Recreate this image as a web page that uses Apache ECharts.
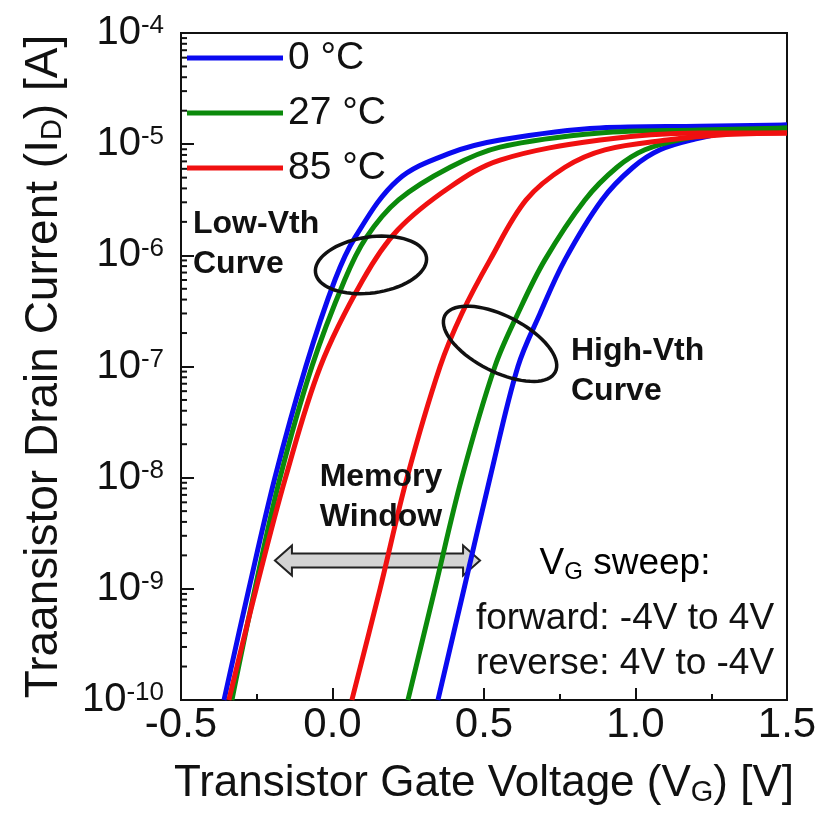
<!DOCTYPE html>
<html>
<head>
<meta charset="utf-8">
<title>ID-VG temperature</title>
<script src="https://cdn.jsdelivr.net/npm/echarts@6/dist/echarts.min.js"></script>
<style>
	html, body {margin: 0; padding: 0; background: #fff;}
	#main {width: 831px; height: 814px;}
</style>
</head>
<body>
<div id="main"></div>
<script type="text/javascript">
	// 读图得到的数据 (V_G [V], I_D [A])
	var blueLowV  = [-0.358, -0.276, -0.19, -0.088, 0.008, 0.075, 0.215, 0.388, 0.553, 0.883, 1.213, 1.5];
	var blueLowI  = [1e-10, 1e-9, 1e-8, 1e-7, 6.0e-7, 1.46e-6, 4.76e-6, 8.3e-6, 1.09e-5, 1.40e-5, 1.45e-5, 1.49e-5];
	var blueHighV = [0.348, 0.434, 0.52, 0.612, 0.685, 0.767, 0.889, 0.992, 1.081, 1.196, 1.345, 1.5];
	var blueHighI = [1e-10, 1e-9, 1e-8, 1e-7, 3.0e-7, 9.1e-7, 3.15e-6, 6.2e-6, 8.9e-6, 1.11e-5, 1.34e-5, 1.49e-5];

	var greenLowV  = [-0.332, -0.256, -0.173, -0.068, 0.04, 0.11, 0.218, 0.388, 0.553, 0.883, 1.213, 1.5];
	var greenLowI  = [1e-10, 1e-9, 1e-8, 1e-7, 6.0e-7, 1.43e-6, 3.15e-6, 6.2e-6, 9.4e-6, 1.26e-5, 1.34e-5, 1.40e-5];
	var greenHighV = [0.249, 0.338, 0.427, 0.536, 0.612, 0.701, 0.833, 0.939, 1.031, 1.157, 1.312, 1.5];
	var greenHighI = [1e-10, 1e-9, 1e-8, 1e-7, 3.0e-7, 9.1e-7, 3.15e-6, 6.2e-6, 8.9e-6, 1.11e-5, 1.29e-5, 1.40e-5];

	var redLowV  = [-0.342, -0.252, -0.155, -0.04, 0.1, 0.215, 0.388, 0.553, 0.883, 1.213, 1.5];
	var redLowI  = [1e-10, 1e-9, 1e-8, 1e-7, 6.0e-7, 1.69e-6, 4.12e-6, 7.2e-6, 1.09e-5, 1.26e-5, 1.26e-5];
	var redHighV = [0.064, 0.157, 0.246, 0.355, 0.427, 0.52, 0.639, 0.767, 0.899, 1.104, 1.279, 1.5];
	var redHighI = [1e-10, 1e-9, 1e-8, 1e-7, 3.0e-7, 9.1e-7, 3.15e-6, 6.2e-6, 8.9e-6, 1.09e-5, 1.21e-5, 1.26e-5];

	var legendNames = ['0 °C', '27 °C', '85 °C'];
	var colors = ['#0a0af0', '#0b8a0b', '#f01010'];
	var xTicks = [-0.5, 0.0, 0.5, 1.0, 1.5];
	var yDecades = [-10, -9, -8, -7, -6, -5, -4];

	var FONT = '"Liberation Sans", Arial, sans-serif';

	function zip(v, i) {
		var out = [];
		for (var k = 0; k < v.length; k++) out.push([v[k], i[k]]);
		return out;
	}

	// 对数轴的小刻度 2..9 x 10^n
	var minorVals = [];
	for (var d = 0; d < yDecades.length - 1; d++) {
		for (var m = 2; m <= 9; m++) minorVals.push([xTicks[0], m * Math.pow(10, yDecades[d])]);
	}

	function curve(name, color, v, i) {
		return {
			name: name, type: 'line', data: zip(v, i),
			smooth: 0.35, symbol: 'none',
			lineStyle: {color: color, width: 5}, itemStyle: {color: color},
			z: 3
		};
	}

	var myChart = echarts.init(document.getElementById('main'));

	var option = {
		animation: false,
		grid: {left: 181, right: 44, top: 33, bottom: 114, show: true,
			borderColor: '#111', borderWidth: 2, containLabel: false, outerBoundsMode: 'none'},
		legend: {
			data: legendNames, orient: 'vertical', left: 187, top: 38, padding: 0,
			icon: 'rect', itemWidth: 96, itemHeight: 5, itemGap: 15,
			textStyle: {fontFamily: FONT, fontSize: 39, lineHeight: 40, color: '#111'}
		},
		xAxis: {
			type: 'value', min: xTicks[0], max: xTicks[xTicks.length - 1], interval: 0.5,
			axisLine: {onZero: false, lineStyle: {color: '#111', width: 2}},
			axisTick: {inside: true, length: 12, lineStyle: {color: '#111', width: 2}},
			minorTick: {show: true, splitNumber: 2, length: 6, lineStyle: {color: '#111', width: 2}},
			splitLine: {show: false},
			axisLabel: {margin: 4, fontFamily: FONT, fontSize: 42, color: '#111',
				formatter: function (v) { return v.toFixed(1); }},
			name: '{a|Transistor Gate Voltage (V}{s|G}{a|) [V]}',
			nameLocation: 'middle', nameGap: 61,
			nameTextStyle: {rich: {
				a: {fontFamily: FONT, fontSize: 44, lineHeight: 46, color: '#111'},
				s: {fontFamily: FONT, fontSize: 29, lineHeight: 20, verticalAlign: 'bottom', color: '#111'}
			}}
		},
		yAxis: {
			type: 'log', logBase: 10, min: Math.pow(10, yDecades[0]), max: Math.pow(10, yDecades[yDecades.length - 1]),
			axisLine: {onZero: false, lineStyle: {color: '#111', width: 2}},
			axisTick: {inside: true, length: 13, lineStyle: {color: '#111', width: 2}},
			splitLine: {show: false},
			axisLabel: {
				margin: 17,
				formatter: function (v) { return '{b|10}{s|' + Math.round(Math.log10(v)) + '}'; },
				rich: {
					b: {fontFamily: FONT, fontSize: 40, lineHeight: 40, color: '#111'},
					s: {fontFamily: FONT, fontSize: 26, lineHeight: 20, verticalAlign: 'top', color: '#111'}
				}
			},
			name: '{a|Traansistor Drain Current (I}{s|D}{a|) [A]}',
			nameLocation: 'middle', nameGap: 114,
			nameTextStyle: {rich: {
				a: {fontFamily: FONT, fontSize: 46, lineHeight: 46, color: '#111'},
				s: {fontFamily: FONT, fontSize: 29, lineHeight: 20, verticalAlign: 'bottom', color: '#111'}
			}}
		},
		series: [
			curve(legendNames[0], colors[0], blueLowV, blueLowI),
			curve(legendNames[0], colors[0], blueHighV, blueHighI),
			curve(legendNames[1], colors[1], greenLowV, greenLowI),
			curve(legendNames[1], colors[1], greenHighV, greenHighI),
			curve(legendNames[2], colors[2], redLowV, redLowI),
			curve(legendNames[2], colors[2], redHighV, redHighI),
			{
				type: 'custom', data: minorVals, silent: true, z: 4,
				renderItem: function (params, api) {
					var p = api.coord([api.value(0), api.value(1)]);
					return {type: 'line', shape: {x1: p[0], y1: p[1], x2: p[0] + 6, y2: p[1]},
						style: {stroke: '#111', lineWidth: 2}};
				}
			}
		]
	};

	myChart.setOption(option);

	// 标注：椭圆、双箭头、文字
	function px(v, i) { return myChart.convertToPixel({gridIndex: 0}, [v, i]); }

	function ellipsePoints(c, rx, ry, deg) {
		var a = deg * Math.PI / 180, pts = [];
		for (var k = 0; k < 72; k++) {
			var t = k / 72 * 2 * Math.PI;
			var ex = rx * Math.cos(t), ey = ry * Math.sin(t);
			pts.push([c[0] + ex * Math.cos(a) - ey * Math.sin(a), c[1] + ex * Math.sin(a) + ey * Math.cos(a)]);
		}
		return pts;
	}

	var e1 = px(0.127, 8.2e-7);
	var e2 = px(0.553, 1.6e-7);
	var aL = px(-0.19, 1.8e-9), aR = px(0.487, 1.8e-9);
	var yc = aL[1], hl = 17, hh = 15, sh = 7;
	var arrowPts = [
		[aL[0], yc], [aL[0] + hl, yc - hh], [aL[0] + hl, yc - sh], [aR[0] - hl, yc - sh],
		[aR[0] - hl, yc - hh], [aR[0], yc], [aR[0] - hl, yc + hh], [aR[0] - hl, yc + sh],
		[aL[0] + hl, yc + sh], [aL[0] + hl, yc + hh]
	];

	function label(text, x, y, size, bold, align) {
		return {type: 'text', x: x, y: y, z: 10, style: {
			text: text, fill: '#111', align: align || 'left', verticalAlign: 'middle',
			font: (bold ? 'bold ' : '') + size + 'px ' + FONT
		}};
	}

	myChart.setOption({
		graphic: [
			{type: 'polygon', z: 1, shape: {points: arrowPts},
				style: {fill: '#d3d3d3', stroke: '#222', lineWidth: 2}},
			{type: 'polygon', z: 10, shape: {points: ellipsePoints(e1, 56, 28, -8)},
				style: {fill: null, stroke: '#111', lineWidth: 3.5}},
			{type: 'polygon', z: 10, shape: {points: ellipsePoints(e2, 62, 28, 27)},
				style: {fill: null, stroke: '#111', lineWidth: 3.5}},
			label('Low-Vth', 193, 224, 32, true),
			label('Curve', 193, 264, 32, true),
			label('High-Vth', 571, 351, 32, true),
			label('Curve', 571, 391, 32, true),
			label('Memory', 381, 477, 32, true, 'center'),
			label('Window', 381, 517, 32, true, 'center'),
			{type: 'text', x: 625, y: 564, z: 10, style: {
				text: '{a|V}{s|G}{a| sweep:}', align: 'center', verticalAlign: 'middle',
				rich: {
					a: {fontFamily: FONT, fontSize: 37, lineHeight: 40, color: '#111'},
					s: {fontFamily: FONT, fontSize: 24, lineHeight: 18, verticalAlign: 'bottom', color: '#111'}
				}
			}},
			label('forward: -4V to 4V', 625, 619, 37, false, 'center'),
			label('reverse: 4V to -4V', 625, 664, 37, false, 'center')
		]
	});
</script>
</body>
</html>
